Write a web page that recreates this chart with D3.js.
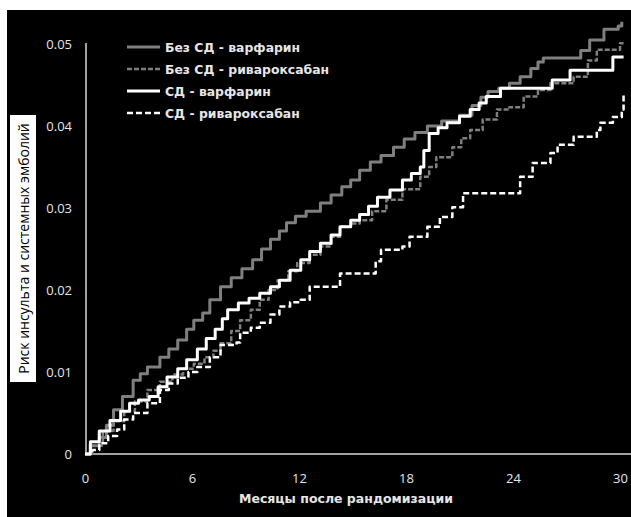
<!DOCTYPE html>
<html>
<head>
<meta charset="utf-8">
<script src="https://cdn.jsdelivr.net/npm/d3@7"></script>
<style>
  body { margin: 0; background: #fff; }
  .chart { width: 631px; height: 517px; }
  .tick-label { font-family: "Open Sans", sans-serif; font-size: 13px; fill: #e6e6e6; }
  .legend-label { font-family: "DejaVu Sans", sans-serif; font-weight: bold; font-size: 12.4px; fill: #e6e6e6; }
  .x-title { font-family: "DejaVu Sans", sans-serif; font-weight: bold; font-size: 12.5px; fill: #e6e6e6; }
  .y-title { font-family: "Open Sans", sans-serif; font-size: 14px; fill: #000; }
</style>
</head>
<body>
<div class="chart"></div>
<script>
// values: [month, cumulative risk]
let noDmWarfarin = [[0, 0], [0.3, 0.001], [0.8, 0.002], [1.2, 0.0035], [1.6, 0.0054], [2.1, 0.007], [2.7, 0.009],
    [3.1, 0.0098], [3.5, 0.0106], [4.2, 0.0118], [4.7, 0.0128], [5.2, 0.0139], [5.7, 0.0152], [6.1, 0.0163],
    [6.6, 0.0172], [7.0, 0.0188], [7.6, 0.0204], [8.2, 0.0215], [8.8, 0.0226], [9.4, 0.0237], [9.9, 0.025],
    [10.4, 0.0262], [10.9, 0.0272], [11.3, 0.0282], [11.8, 0.029], [12.4, 0.0296], [13.2, 0.0306], [13.8, 0.0316],
    [14.4, 0.0326], [14.9, 0.0334], [15.4, 0.0346], [16.0, 0.0356], [16.6, 0.0364], [17.3, 0.0374], [17.9, 0.0384],
    [18.5, 0.0392], [19.2, 0.040], [20.0, 0.0406], [21.0, 0.0413], [21.7, 0.0425], [22.2, 0.0435], [22.6, 0.0442],
    [23.2, 0.0446], [23.8, 0.0452], [24.4, 0.046], [25.0, 0.047], [25.4, 0.0478], [25.7, 0.0483], [27.8, 0.0492],
    [28.3, 0.0505], [29.1, 0.0518], [29.9, 0.0522], [30.1, 0.0527]];

let noDmRiva = [[0, 0], [0.4, 0.001], [1.0, 0.0028], [1.6, 0.004], [2.2, 0.0052], [2.8, 0.0064], [3.5, 0.0078],
    [4.2, 0.0088], [4.9, 0.0097], [5.5, 0.0104], [6.1, 0.011], [6.7, 0.0118], [7.2, 0.0126], [7.6, 0.0135],
    [8.2, 0.015], [8.7, 0.0163], [9.3, 0.0176], [9.8, 0.0188], [10.3, 0.02], [10.8, 0.0212], [11.4, 0.0223],
    [11.9, 0.0233], [12.6, 0.0243], [13.2, 0.0253], [13.8, 0.0265], [14.3, 0.0277], [14.9, 0.0281], [15.4, 0.0285],
    [16.1, 0.0296], [16.9, 0.031], [17.8, 0.0323], [18.8, 0.0338], [19.3, 0.035], [19.7, 0.0362], [20.6, 0.0374],
    [21.1, 0.0385], [21.6, 0.0395], [22.3, 0.0408], [23.1, 0.042], [23.8, 0.0423], [24.6, 0.0436], [25.4, 0.0444],
    [26.1, 0.0452], [27.4, 0.046], [28.2, 0.048], [28.7, 0.0493], [30.0, 0.0501], [30.2, 0.0501]];

let dmWarfarin = [[0, 0], [0.3, 0.0015], [0.8, 0.0028], [1.4, 0.0041], [2.0, 0.0052], [2.5, 0.0062], [3.0, 0.0066],
    [3.6, 0.007], [4.1, 0.0082], [4.6, 0.0094], [5.2, 0.0104], [5.7, 0.0115], [6.3, 0.0128], [6.8, 0.0141],
    [7.3, 0.0152], [7.7, 0.0165], [8.0, 0.0176], [8.6, 0.0184], [9.2, 0.019], [9.8, 0.0196], [10.4, 0.0204],
    [10.9, 0.0212], [11.5, 0.0224], [12.1, 0.0237], [12.6, 0.0247], [13.2, 0.0257], [13.8, 0.0267], [14.3, 0.0277],
    [14.9, 0.0285], [15.4, 0.0292], [15.9, 0.0302], [16.4, 0.0313], [17.1, 0.0322], [17.8, 0.0334], [18.3, 0.0342],
    [18.8, 0.035], [19.0, 0.037], [19.3, 0.0391], [19.8, 0.0398], [20.3, 0.0404], [21.0, 0.0412], [21.6, 0.042],
    [22.1, 0.0428], [22.5, 0.0436], [23.3, 0.0446], [26.2, 0.0456], [27.2, 0.0468], [29.6, 0.0484], [30.2, 0.0484]];

let dmRiva = [[0, 0], [0.4, 0.0005], [0.8, 0.0013], [1.3, 0.0022], [1.8, 0.003], [2.2, 0.0042], [2.7, 0.005],
    [3.5, 0.0062], [4.2, 0.0078], [4.7, 0.0086], [5.2, 0.0093], [5.8, 0.01], [6.3, 0.0106], [7.0, 0.0118],
    [7.6, 0.0133], [8.5, 0.0136], [8.7, 0.0148], [9.3, 0.0154], [9.8, 0.016], [10.4, 0.017], [10.9, 0.018],
    [11.5, 0.0185], [12.1, 0.0188], [12.6, 0.0204], [14.3, 0.022], [16.3, 0.0235], [16.6, 0.0249], [17.8, 0.0253],
    [18.2, 0.0265], [19.2, 0.0277], [19.9, 0.0289], [20.6, 0.0301], [21.2, 0.0318], [24.4, 0.0338], [25.1, 0.0355],
    [26.1, 0.0367], [26.5, 0.0377], [27.4, 0.0387], [28.7, 0.0395], [28.9, 0.0404], [29.6, 0.0411], [30.1, 0.042],
    [30.2, 0.0438]];

let seriesNames = ["Без СД - варфарин", "Без СД - ривароксабан", "СД - варфарин", "СД - ривароксабан"];
let xTicks = [0, 6, 12, 18, 24, 30];
let yTicks = [0, 0.01, 0.02, 0.03, 0.04, 0.05];
let yTickLabels = ["0", "0.01", "0.02", "0.03", "0.04", "0.05"];
let xTitle = "Месяцы после рандомизации";
let yTitle = "Риск инсульта и системных эмболий";

let chart = {};

chart.series = [
    { name: seriesNames[0], values: noDmWarfarin, color: "#7f7f7f", width: 3, dash: null },
    { name: seriesNames[1], values: noDmRiva, color: "#7f7f7f", width: 2.5, dash: "5,2" },
    { name: seriesNames[2], values: dmWarfarin, color: "#ffffff", width: 3, dash: null },
    { name: seriesNames[3], values: dmRiva, color: "#ffffff", width: 2.5, dash: "6,3" }
];

function setDimensions() {
    chart.margin = { top: 44, right: 11, bottom: 63, left: 85 };
    chart.fullWidth = 631;
    chart.fullHeight = 517;
    chart.width = chart.fullWidth - chart.margin.left - chart.margin.right;
    chart.height = chart.fullHeight - chart.margin.top - chart.margin.bottom;
}

function setScales() {
    chart.xScale = d3.scaleLinear().domain([0, 30]).range([0, chart.width]);
    chart.yScale = d3.scaleLinear().domain([0, 0.05]).range([chart.height, 0]);

    chart.line = d3.line()
        .curve(d3.curveStepAfter)
        .x(d => chart.xScale(d[0]))
        .y(d => chart.yScale(d[1]));
}

function draw() {
    chart.svg = d3.select(".chart").append("svg")
        .attr("width", chart.fullWidth)
        .attr("height", chart.fullHeight);

    // black panel, thin white border on top and left
    chart.svg.append("rect")
        .attr("x", 7).attr("y", 10)
        .attr("width", chart.fullWidth - 7)
        .attr("height", chart.fullHeight - 10)
        .attr("fill", "#000");

    chart.plot = chart.svg.append("g")
        .attr("transform", `translate(${chart.margin.left},${chart.margin.top})`);

    // axes
    let xAxis = chart.plot.append("g")
        .attr("transform", `translate(0,${chart.height})`)
        .call(d3.axisBottom(chart.xScale).tickValues(xTicks).tickSize(0).tickPadding(20));
    xAxis.select(".domain").remove();
    xAxis.append("line")
        .attr("x1", 0).attr("x2", chart.fullWidth - chart.margin.left)
        .attr("stroke", "#d9d9d9").attr("stroke-width", 1.5);
    xAxis.selectAll(".tick text").attr("class", "tick-label").attr("fill", null);

    let yAxis = chart.plot.append("g")
        .call(d3.axisLeft(chart.yScale).tickValues(yTicks).tickSize(0).tickPadding(13)
            .tickFormat((d, i) => yTickLabels[i]));
    yAxis.select(".domain").remove();
    yAxis.append("line")
        .attr("x1", 1).attr("x2", 1)
        .attr("y1", -1).attr("y2", chart.height)
        .attr("stroke", "#d9d9d9").attr("stroke-width", 1.5);
    yAxis.selectAll(".tick text").attr("class", "tick-label").attr("fill", null);

    // curves
    chart.plot.selectAll(".curve")
        .data(chart.series)
        .enter()
        .append("path")
        .attr("class", "curve")
        .attr("d", d => chart.line(d.values))
        .attr("fill", "none")
        .attr("stroke", d => d.color)
        .attr("stroke-width", d => d.width)
        .attr("stroke-linejoin", "round")
        .attr("stroke-dasharray", d => d.dash);

    // legend
    let legend = chart.svg.append("g").attr("transform", "translate(127,47)");
    let rows = legend.selectAll(".legend-row")
        .data(chart.series)
        .enter()
        .append("g")
        .attr("transform", (d, i) => `translate(0,${i * 22})`);
    rows.append("line")
        .attr("x1", 0).attr("x2", 33)
        .attr("stroke", d => d.color)
        .attr("stroke-width", d => d.width)
        .attr("stroke-dasharray", d => d.dash);
    rows.append("text")
        .attr("class", "legend-label")
        .attr("x", 38).attr("y", 4.5)
        .text(d => d.name);

    // axis titles
    chart.svg.append("text")
        .attr("class", "x-title")
        .attr("x", 346).attr("y", 503)
        .attr("text-anchor", "middle")
        .text(xTitle);

    chart.svg.append("rect")
        .attr("x", 10).attr("y", 115)
        .attr("width", 26).attr("height", 267)
        .attr("fill", "#fff");
    chart.svg.append("text")
        .attr("class", "y-title")
        .attr("transform", "translate(29,248.5) rotate(-90)")
        .attr("text-anchor", "middle")
        .text(yTitle);
}

setDimensions();
setScales();
draw();
</script>
</body>
</html>
